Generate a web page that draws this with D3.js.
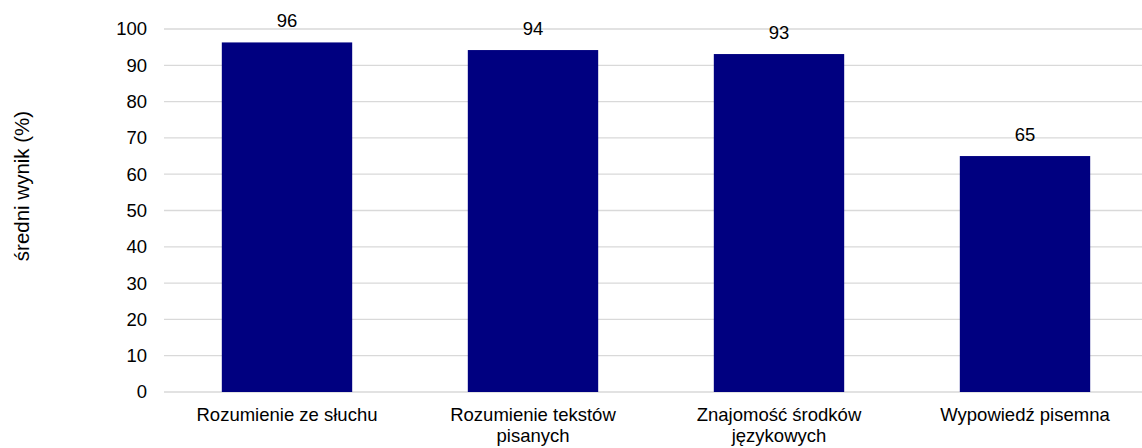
<!DOCTYPE html>
<html>
<head>
<meta charset="utf-8">
<script src="https://cdn.jsdelivr.net/npm/d3@7.9.0/dist/d3.min.js"></script>
<style>
  html, body { margin: 0; padding: 0; background: #fff; }
  svg text { font-family: Arial, "Liberation Sans", sans-serif; fill: #000; }
</style>
</head>
<body>
<svg id="chart" width="1142" height="448"></svg>
<script>
const categories = ['Rozumienie ze słuchu', 'Rozumienie tekstów pisanych', 'Znajomość środków językowych', 'Wypowiedź pisemna'];
const values = [96.3, 94.2, 93.1, 65.0];
const labels = ['96', '94', '93', '65'];
const yTicks = [0, 10, 20, 30, 40, 50, 60, 70, 80, 90, 100];
const yTitle = 'średni wynik (%)';

const width = 1142, height = 448;
const margin = { top: 29, right: -6, bottom: 56, left: 164 };
const fontSize = 18.5;

const svg = d3.select('#chart');

const x = d3.scaleBand()
  .domain(categories)
  .range([margin.left, width - margin.right])
  .paddingInner(0.47)
  .paddingOuter(0.235);

const y = d3.scaleLinear()
  .domain([0, 100])
  .range([height - margin.bottom, margin.top]);

// gridlines
svg.append('g')
  .selectAll('line')
  .data(yTicks)
  .enter()
  .append('line')
  .attr('x1', margin.left)
  .attr('x2', width - margin.right)
  .attr('y1', d => y(d))
  .attr('y2', d => y(d))
  .attr('stroke', '#d9d9d9')
  .attr('stroke-width', 1.3);

// y axis labels
const yAxis = d3.axisLeft(y).tickValues(yTicks).tickSize(0).tickPadding(17);
svg.append('g')
  .attr('transform', `translate(${margin.left},0)`)
  .call(yAxis)
  .call(g => g.select('.domain').remove())
  .selectAll('text')
  .attr('font-size', fontSize)
  .attr('font-family', 'Arial, "Liberation Sans", sans-serif')
  .attr('fill', '#000');

// bars
svg.append('g')
  .selectAll('rect')
  .data(values)
  .enter()
  .append('rect')
  .attr('x', (d, i) => x(categories[i]))
  .attr('width', x.bandwidth())
  .attr('y', d => y(d))
  .attr('height', d => y(0) - y(d))
  .attr('fill', '#000080');

// value labels
svg.append('g')
  .selectAll('text')
  .data(values)
  .enter()
  .append('text')
  .attr('x', (d, i) => x(categories[i]) + x.bandwidth() / 2)
  .attr('y', d => y(d) - 15)
  .attr('text-anchor', 'middle')
  .attr('font-size', fontSize)
  .text((d, i) => labels[i]);

// category labels, wrapped
function wrap(textSel, maxWidth) {
  textSel.each(function (d) {
    const text = d3.select(this);
    const words = d.split(' ');
    const cx = text.attr('x');
    let line = [];
    let tspan = text.append('tspan').attr('x', cx).attr('dy', 0);
    words.forEach(w => {
      line.push(w);
      tspan.text(line.join(' '));
      if (tspan.node().getComputedTextLength() > maxWidth && line.length > 1) {
        line.pop();
        tspan.text(line.join(' '));
        line = [w];
        tspan = text.append('tspan').attr('x', cx).attr('dy', 21).text(w);
      }
    });
  });
}

svg.append('g')
  .selectAll('text')
  .data(categories)
  .enter()
  .append('text')
  .attr('x', d => x(d) + x.bandwidth() / 2)
  .attr('y', y(0) + 29)
  .attr('text-anchor', 'middle')
  .attr('font-size', fontSize)
  .call(wrap, 205);

// y title
svg.append('text')
  .attr('transform', `translate(29, 186) rotate(-90)`)
  .attr('text-anchor', 'middle')
  .attr('font-size', 20.5)
  .text(yTitle);
</script>
</body>
</html>
